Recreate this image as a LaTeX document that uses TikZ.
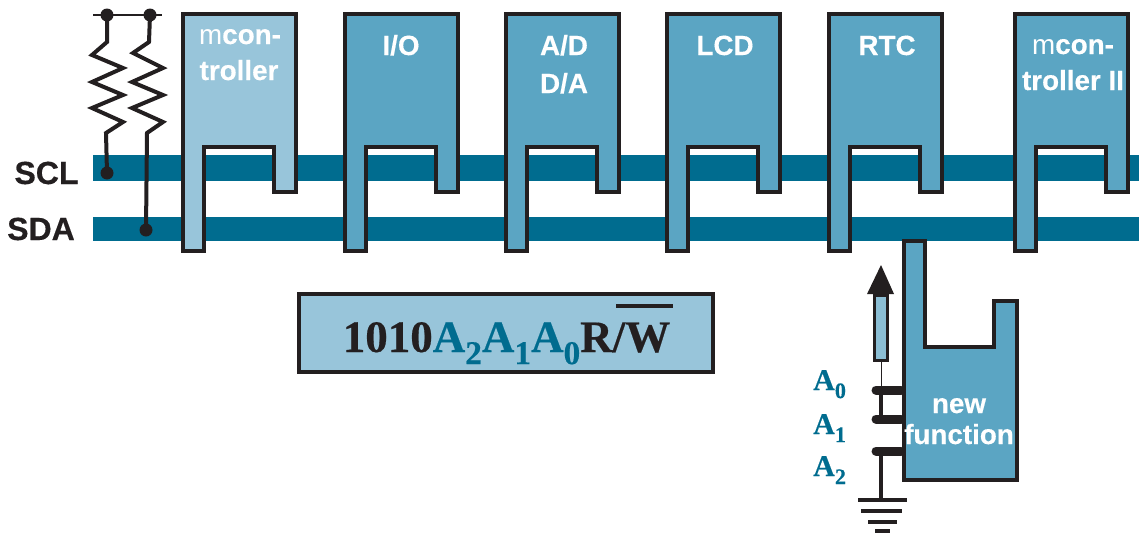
\documentclass[tikz,border=0pt]{standalone}
\usepackage{fontspec}
\setmainfont{Liberation Sans}[BoldFeatures={FakeBold=0.4}]
\newfontfamily\serifb{Liberation Serif}[BoldFont={Liberation Serif Bold},BoldFeatures={FakeBold=0.4}]
\definecolor{busc}{HTML}{006C8F}
\definecolor{blockc}{HTML}{5BA5C3}
\definecolor{lightc}{HTML}{98C5DA}
\definecolor{inkc}{HTML}{231F20}
\newcommand{\subs}[1]{\raisebox{-0.27em}{\fontsize{0.74em}{1em}\selectfont #1}}
\tikzset{
  x=1pt,y=-1pt,
  bus/.style={fill=busc,draw=none},
  dev/.style={draw=inkc,line width=3.6pt,miter limit=10,fill=blockc},
  wire/.style={draw=inkc,line width=4pt,line join=miter},
  thin wire/.style={draw=inkc,line width=1pt},
  contact/.style={draw=inkc,line width=9pt,line cap=round},
  gnd/.style={draw=inkc,line width=3.5pt},
  dot/.style={circle,fill=inkc,inner sep=0pt,minimum size=13pt},
  devtext/.style={anchor=base,text=white,font=\fontsize{27.8}{27.8}\selectfont\bfseries,inner sep=0pt},
  buslabel/.style={anchor=base,text=inkc,font=\fontsize{32}{32}\selectfont\bfseries,inner sep=0pt},
  addr/.style={anchor=base west,text=busc,font=\fontsize{30}{30}\selectfont\serifb\bfseries,inner sep=0pt},
}
\newcommand{\device}[2][blockc]{%
  \draw[dev,fill=#1] (#2,14) -- ++(113,0) -- ++(0,178) -- ++(-22,0) -- ++(0,-45) -- ++(-70,0) -- ++(0,104) -- ++(-21,0) -- cycle;}
\begin{document}
\begin{tikzpicture}
\useasboundingbox (0,0) rectangle (1139,533);
% buses
\fill[bus] (93,155) rectangle (1139,181);
\fill[bus] (93,217) rectangle (1139,241);
\node[buslabel] (scl) at (46.5,184) {SCL};
\node[buslabel] (sda) at (41,240) {SDA};
% devices
\device[lightc]{183}
\device{345}
\device{506}
\device{667}
\device{829}
\device{1015}
\node[devtext] (m1a) at (240,44) {\textmd{m}con-};
\node[devtext] (m1b) at (239,80) {troller};
\node[devtext] (io) at (401,55) {I/O};
\node[devtext] (ad) at (564,55) {A/D};
\node[devtext] (da) at (564,93) {D/A};
\node[devtext] (lcd) at (725,55) {LCD};
\node[devtext] (rtc) at (887,55) {RTC};
\node[devtext] (m2a) at (1073,54) {\textmd{m}con-};
\node[devtext] (m2b) at (1073,90) {troller II};
% new function device
\draw[dev] (904,241) -- (925,241) -- (925,347) -- (994,347) -- (994,301) -- (1017,301) -- (1017,480) -- (904,480) -- cycle;
\node[devtext] (nf1) at (959,413) {new};
\node[devtext] (nf2) at (959,444) {function};
% pull-ups
\coordinate (railL) at (93,15);
\coordinate (railR) at (162,15);
\draw[thin wire,line width=2.4pt] (railL) -- (railR);
\node[dot] (top1) at (107,15) {};
\node[dot] (top2) at (150,15) {};
\node[dot] (sclp) at (107,173) {};
\node[dot] (sdap) at (146,230) {};
\draw[wire] (top1.center) -- (107,42) -- (92,55) -- (123,68) -- (92,82) -- (123,95) -- (92,108) -- (123,122) -- (106,133) -- (sclp.center);
\draw[wire] (top2.center) -- (149,42) -- (133,53) -- (163,68) -- (132,82) -- (163,95) -- (132,108) -- (163,122) -- (147,133) -- (sdap.center);
% address box
\node[draw=inkc,line width=3.4pt,fill=lightc,minimum width=414pt,minimum height=78pt,inner sep=0pt] (addrbox) at (506,333) {};
\node[anchor=base,inner sep=0pt,font=\fontsize{45}{45}\selectfont\serifb\bfseries,text=inkc] (code) at (506.5,352)
  {1010\textcolor{busc}{A\subs{2}A\subs{1}A\subs{0}}R/W};
\coordinate (ovL) at (616,306);
\coordinate (ovR) at (673,306);
\draw[draw=inkc,line width=3.4pt] (ovL) -- (ovR);
% switch
\coordinate (sw0) at (881,390);
\coordinate (sw1) at (881,419);
\coordinate (sw2) at (881,451);
\coordinate (sw0r) at (901,390);
\coordinate (sw1r) at (901,419);
\coordinate (sw2r) at (901,451);
\coordinate (gndtop) at (881,500);
\node[draw=inkc,line width=3pt,fill=lightc!80!blockc,minimum width=12.5pt,minimum height=65pt,inner sep=0pt] (stem) at (881,328) {};
\fill[inkc] (881,265) -- (894,294) -- (867,294) -- cycle;
\coordinate (tip) at (881,294);
\draw[thin wire] (stem.south) -- (sw0);
\draw[wire] (sw0) -- (sw1);
\draw[wire] (sw2) -- (gndtop);
\draw[contact] (876,390) -- (sw0r);
\draw[contact] (876,419) -- (sw1r);
\draw[contact] (876,451) -- (sw2r);
\draw[gnd] (858,500) -- (907,500);
\draw[gnd] (861,511) -- (902,511);
\draw[gnd] (868,522) -- (897,522);
\draw[gnd] (875,531) -- (890,531);
\node[addr] (a0) at (813,390) {A\subs{0}};
\node[addr] (a1) at (813,434) {A\subs{1}};
\node[addr] (a2) at (813,476) {A\subs{2}};
\end{tikzpicture}
\end{document}
